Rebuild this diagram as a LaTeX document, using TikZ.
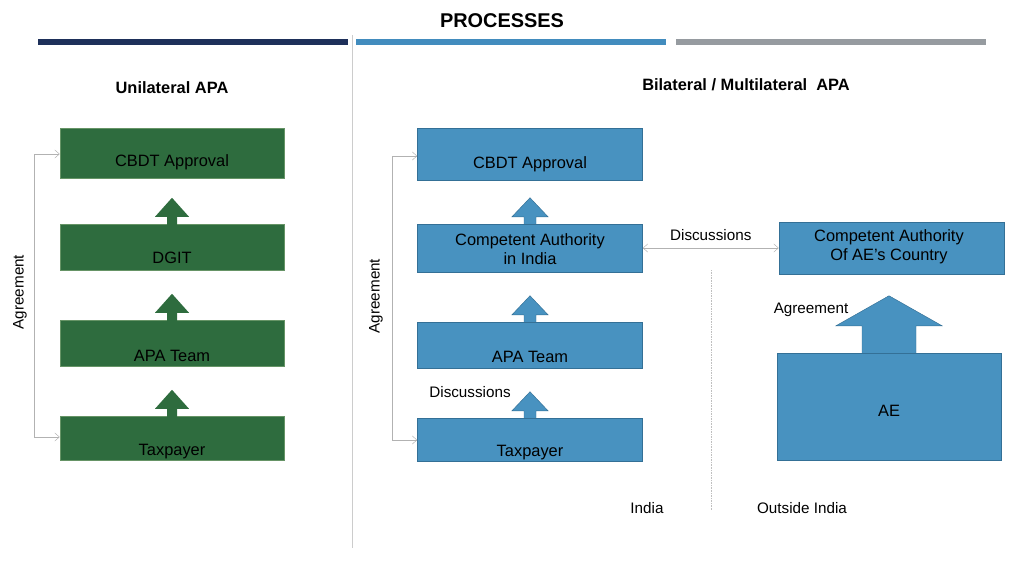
\documentclass[tikz,border=0pt]{standalone}
\usepackage{fontspec}
\setmainfont{Liberation Sans}
\usetikzlibrary{arrows.meta, positioning}
\begin{document}
\begin{tikzpicture}[x=0.03cm, y=-0.03cm,
    gbox/.style={draw=green!30!black!60, fill=apagreen, minimum width=6.72cm, inner sep=0pt},
    bbox/.style={draw=apablueline, fill=apablue, minimum width=6.75cm, inner sep=0pt},
    txt/.style={font=\fontsize{14}{16}\selectfont, align=center, inner sep=0pt},
    lbl/.style={font=\fontsize{13}{15}\selectfont, inner sep=0pt},
    link/.style={draw=gray!60, -{Straight Barb[length=4pt,width=7pt]}},
    every node/.style={font=\small}
]

% Colors
\definecolor{apagreen}{RGB}{46,108,62}
\definecolor{apablue}{RGB}{72,146,192}
\definecolor{apablueline}{RGB}{52,112,150}
\definecolor{barnavy}{RGB}{30,48,90}
\definecolor{barblue}{RGB}{66,140,190}
\definecolor{bargrey}{RGB}{150,155,160}

\useasboundingbox (0,0) rectangle (1024,576);

% Title and bars
\node[font=\fontsize{17}{20}\selectfont\bfseries] (title) at (502,21) {PROCESSES};
\fill[barnavy] (38,39) rectangle (348,45);
\fill[barblue] (356,39) rectangle (666,45);
\fill[bargrey] (676,39) rectangle (986,45);
\draw[gray!40, thick] (352,35) -- (352,548);

% Unilateral
\node[font=\fontsize{14}{16}\selectfont\bfseries] (uhead) at (172,88) {Unilateral APA};
\node[gbox, minimum height=1.5cm] (ucbdt) at (172,153) {};
\node[gbox, minimum height=1.38cm] (udgit) at (172,247) {};
\node[gbox, minimum height=1.38cm] (uteam) at (172,343) {};
\node[gbox, minimum height=1.32cm] (utax) at (172,438) {};
\node[txt] at (172,162) {CBDT Approval};
\node[txt] at (172,258) {DGIT};
\node[txt] at (172,356) {APA Team};
\node[txt] at (172,452) {Taxpayer};
\foreach \b in {udgit, uteam, utax}
  \fill[apagreen, shift={(\b.north)}] (-5,1) -- (-5,-7) -- (-17,-7) -- (0,-26) -- (17,-7) -- (5,-7) -- (5,1) -- cycle;
\coordinate (ubr) at (34,154);
\draw[link] (ubr) -- (ucbdt.west|-ubr);
\draw[link] (ubr) -- (34,437) -- (utax.west|-{(0,437)});
\node[lbl, rotate=90] (uagree) at (20,292) {Agreement};

% Bilateral / Multilateral
\node[font=\fontsize{14}{16}\selectfont\bfseries] (bhead) at (746,85) {Bilateral / Multilateral\ \ APA};
\node[bbox, minimum height=1.56cm] (bcbdt) at (530,154) {};
\node[bbox, minimum height=1.44cm] (bca) at (530,248) {};
\node[bbox, minimum height=1.38cm] (bteam) at (530,345) {};
\node[bbox, minimum height=1.29cm] (btax) at (530,439.5) {};
\node[txt] at (530,164) {CBDT Approval};
\node[txt] at (530,249) {Competent Authority\\in India};
\node[txt] at (530,357) {APA Team};
\node[txt] at (530,453) {Taxpayer};
\foreach \b in {bca, bteam, btax}
  \filldraw[fill=apablue, draw=apablueline, shift={(\b.north)}] (-6,0) -- (-6,-7) -- (-18,-7) -- (0,-26) -- (18,-7) -- (6,-7) -- (6,0);
\coordinate (bbr) at (392,156);
\draw[link] (bbr) -- (bcbdt.west|-bbr);
\draw[link] (bbr) -- (392,440) -- (btax.west|-{(0,440)});
\node[lbl, rotate=90] (bagree) at (376,296) {Agreement};
\node[lbl] (bdisc) at (470,392) {Discussions};

% Outside India
\node[bbox, minimum width=6.75cm, minimum height=1.56cm] (fca) at (891.5,248) {};
\node[txt] at (889,247) {Competent Authority\\Of AE’s Country};
\node[bbox, minimum width=6.72cm, minimum height=3.21cm] (ae) at (889,406.5) {};
\node[txt] at (889,411) {AE};
\filldraw[fill=apablue, draw=apablueline, shift={(ae.north)}] (-27,0) -- (-27,-27) -- (-53,-27) -- (0,-57) -- (53,-27) -- (27,-27) -- (27,0);
\node[lbl] (fagree) at (811,310) {Agreement};
\draw[link, {Straight Barb[length=4pt,width=7pt]}-{Straight Barb[length=4pt,width=7pt]}] (bca.east) -- (fca.west) node[lbl, midway, above=6pt] {Discussions};
\draw[gray!50, densely dotted] (711,270) -- (711,510);
\node[lbl] (india) at (647,508) {India};
\node[lbl] (outside) at (802,508) {Outside India};

\end{tikzpicture}
\end{document}
